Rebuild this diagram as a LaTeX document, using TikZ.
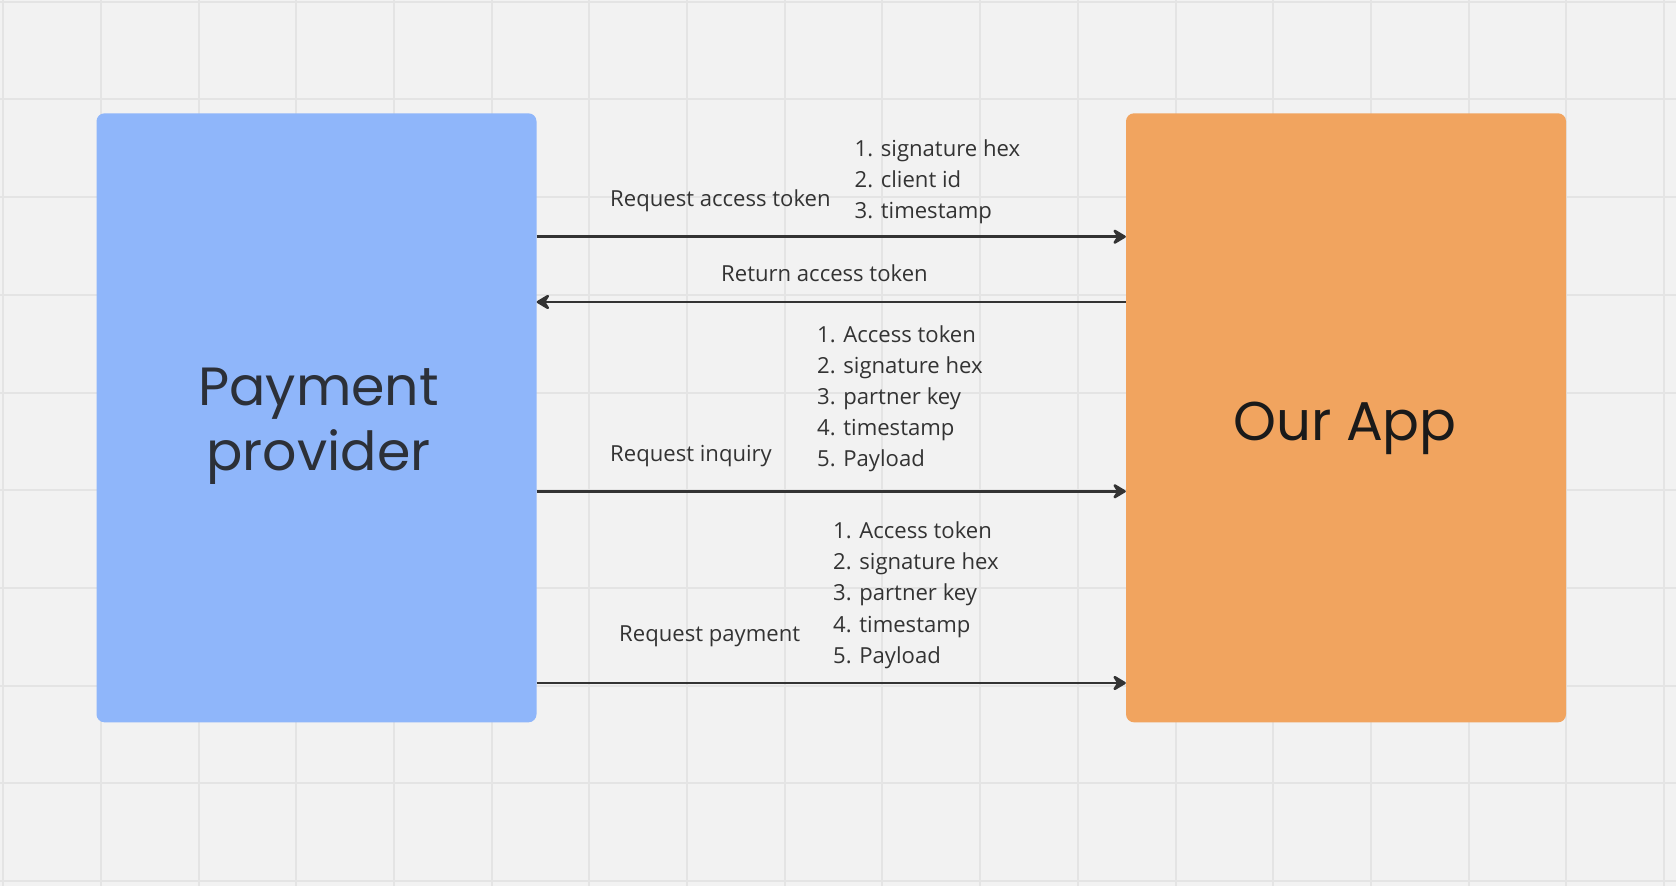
\documentclass[tikz,border=0pt]{standalone}
\usepackage{fontspec}
\setmainfont{Open Sans}
\newfontfamily\bigfont{Poppins}
\usetikzlibrary{arrows.meta}
\definecolor{bg}{HTML}{F2F2F2}
\definecolor{gridc}{HTML}{E4E4E4}
\definecolor{bluebox}{HTML}{8FB6FA}
\definecolor{orangebox}{HTML}{F1A45F}
\definecolor{ink}{HTML}{333333}
\definecolor{inkbig}{HTML}{2C3038}
\definecolor{inkapp}{HTML}{1A1A1A}
\begin{document}
\begin{tikzpicture}[x=1pt,y=-1pt,
  box/.style={rectangle, rounded corners=8pt, minimum width=440pt, minimum height=609pt, inner sep=0pt, draw=none},
  lbl/.style={anchor=base west, inner sep=0pt, font=\fontsize{22.1}{26}\selectfont, text=ink},
  bigtxt/.style={anchor=base, inner sep=0pt, font=\bigfont\fontsize{53.8}{65}\selectfont},
  arr/.style={draw=ink, line width=2.6pt, -{Stealth[length=16pt,width=19pt,inset=6pt,round]}},
  gridline/.style={draw=gridc, line width=2pt}]
\useasboundingbox (0,0) rectangle (1676,886);
\fill[bg] (0,0) rectangle (1676,886);
\foreach \i in {0,...,17} \draw[gridline] ({3.1+97.7*\i},0) -- ({3.1+97.7*\i},886);
\foreach \j in {0,...,9} \draw[gridline] (0,{1.7+97.7*\j}) -- (1676,{1.7+97.7*\j});

\node[box, fill=bluebox] (pp) at (316.5,417.8) {};
\node[box, fill=orangebox] (app) at (1346,417.8) {};
\node[bigtxt, text=inkbig] (pp1) at (318.5,405) {Payment};
\node[bigtxt, text=inkbig] (pp2) at (318.5,470) {provider};
\node[bigtxt, text=inkapp, font=\bigfont\fontsize{54.6}{65}\selectfont] (app1) at (1345,440) {Our App};

\coordinate (y1) at (0,236.7);
\coordinate (y2) at (0,302);
\coordinate (y3) at (0,491.3);
\coordinate (y4) at (0,683);
\draw[arr] (pp.east |- y1) -- (app.west |- y1);
\draw[arr] (app.west |- y2) -- (pp.east |- y2);
\draw[arr] (pp.east |- y3) -- (app.west |- y3);
\draw[arr] (pp.east |- y4) -- (app.west |- y4);

\node[lbl] (t1) at (610,206.5) {Request access token};
\node[lbl] (a1) at (854.5,156) {1. signature hex};
\node[lbl] (a2) at (854.5,187.3) {2. client id};
\node[lbl] (a3) at (854.5,218.3) {3. timestamp};

\node[lbl] (t2) at (721,281.7) {Return access token};

\node[lbl] (t3) at (610,461.7) {Request inquiry};
\node[lbl] (b1) at (817,342) {1. Access token};
\node[lbl] (b2) at (817,373) {2. signature hex};
\node[lbl] (b3) at (817,404.3) {3. partner key};
\node[lbl] (b4) at (817,435.6) {4. timestamp};
\node[lbl] (b5) at (817,466.8) {5. Payload};

\node[lbl] (t4) at (619,641) {Request payment};
\node[lbl] (c1) at (833,538.3) {1. Access token};
\node[lbl] (c2) at (833,569.5) {2. signature hex};
\node[lbl] (c3) at (833,600.8) {3. partner key};
\node[lbl] (c4) at (833,632.1) {4. timestamp};
\node[lbl] (c5) at (833,663.3) {5. Payload};
\end{tikzpicture}
\end{document}
